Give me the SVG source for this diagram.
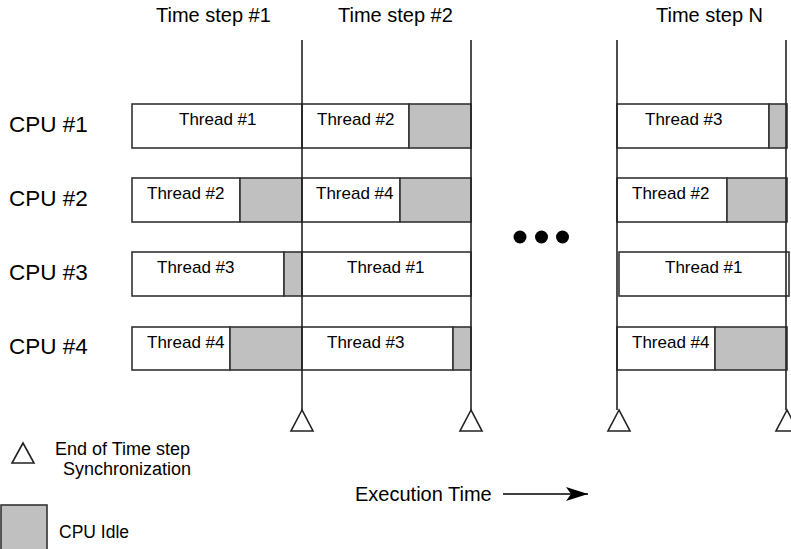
<svg xmlns="http://www.w3.org/2000/svg" width="791" height="549" viewBox="0 0 791 549">
<style>
.box{fill:#fff;stroke:#333;stroke-width:1.6}
.idle{fill:#c0c0c0;stroke:#333;stroke-width:1.6}
.line{stroke:#222;stroke-width:1.6;fill:none}
.tri{fill:#fff;stroke:#222;stroke-width:1.6}
text{font-family:"Liberation Sans",Arial,sans-serif;fill:#000}
.th{font-size:17px}
.cpu{font-size:22.5px}
.ts{font-size:20px}
.lg{font-size:18px}
</style>
<defs>
<marker id="arr" markerWidth="24" markerHeight="16" refX="22" refY="7" orient="auto" markerUnits="userSpaceOnUse">
<path d="M0,0 L22,7 L0,14 L5,7 Z" fill="#000"/>
</marker>
</defs>
<rect width="791" height="549" fill="#fff"/>

<g id="headers">
<text class="ts" x="156" y="22">Time step #1</text>
<text class="ts" x="338" y="22">Time step #2</text>
<text class="ts" x="656" y="22">Time step N</text>
</g>

<g id="cpu1">
<text class="cpu" x="9" y="132">CPU #1</text>
<rect class="box" x="132" y="104" width="170" height="44"/>
<rect class="box" x="302" y="104" width="107" height="44"/>
<rect class="idle" x="409" y="104" width="62" height="44"/>
<text class="th" x="179" y="125">Thread #1</text>
<text class="th" x="317" y="125">Thread #2</text>
<rect class="box" x="617" y="104" width="152" height="44"/>
<rect class="idle" x="769" y="104" width="18" height="44"/>
<text class="th" x="645" y="125">Thread #3</text>
</g>

<g id="cpu2">
<text class="cpu" x="9" y="206">CPU #2</text>
<rect class="box" x="132" y="178" width="108" height="44"/>
<rect class="idle" x="240" y="178" width="62" height="44"/>
<rect class="box" x="302" y="178" width="98" height="44"/>
<rect class="idle" x="400" y="178" width="71" height="44"/>
<text class="th" x="147" y="199">Thread #2</text>
<text class="th" x="316" y="199">Thread #4</text>
<rect class="box" x="617" y="178" width="110" height="44"/>
<rect class="idle" x="727" y="178" width="60" height="44"/>
<text class="th" x="632" y="199">Thread #2</text>
</g>

<g id="cpu3">
<text class="cpu" x="9" y="280">CPU #3</text>
<rect class="box" x="132" y="252" width="152" height="44"/>
<rect class="idle" x="284" y="252" width="18" height="44"/>
<rect class="box" x="302" y="252" width="169" height="44"/>
<text class="th" x="157" y="273">Thread #3</text>
<text class="th" x="347" y="273">Thread #1</text>
<rect class="box" x="619" y="252" width="170" height="44"/>
<text class="th" x="665" y="273">Thread #1</text>
</g>

<g id="cpu4">
<text class="cpu" x="9" y="354">CPU #4</text>
<rect class="box" x="132" y="327" width="98" height="43"/>
<rect class="idle" x="230" y="327" width="72" height="43"/>
<rect class="box" x="302" y="327" width="151" height="43"/>
<rect class="idle" x="453" y="327" width="18" height="43"/>
<text class="th" x="147" y="348">Thread #4</text>
<text class="th" x="327" y="348">Thread #3</text>
<rect class="box" x="617" y="327" width="98" height="43"/>
<rect class="idle" x="715" y="327" width="72" height="43"/>
<text class="th" x="632" y="348">Thread #4</text>
</g>

<g id="timelines">
<line class="line" x1="302" y1="40" x2="302" y2="410"/>
<line class="line" x1="471" y1="40" x2="471" y2="410"/>
<line class="line" x1="617" y1="40" x2="617" y2="410"/>
<line class="line" x1="786" y1="40" x2="786" y2="410"/>
<polygon class="tri" points="302,410 291,431 313,431"/>
<polygon class="tri" points="471,410 460,431 482,431"/>
<polygon class="tri" points="619,410 608,431 630,431"/>
<polygon class="tri" points="787,410 776,431 798,431"/>
</g>

<g id="ellipsis">
<circle cx="520" cy="237" r="6.5" fill="#000"/>
<circle cx="541.5" cy="237" r="6.5" fill="#000"/>
<circle cx="562.5" cy="237" r="6.5" fill="#000"/>
</g>

<g id="exec-time">
<text class="ts" x="355" y="501">Execution Time</text>
<line x1="503" y1="494" x2="588" y2="494" stroke="#000" stroke-width="1.6" marker-end="url(#arr)"/>
</g>

<g id="legend">
<polygon class="tri" points="23,443 12,463 34,463"/>
<text class="lg" x="55" y="455">End of Time step</text>
<text class="lg" x="63" y="475">Synchronization</text>
<rect class="idle" x="1" y="505" width="46" height="50"/>
<text class="lg" x="59" y="538" style="font-size:17.5px">CPU Idle</text>
</g>
</svg>
